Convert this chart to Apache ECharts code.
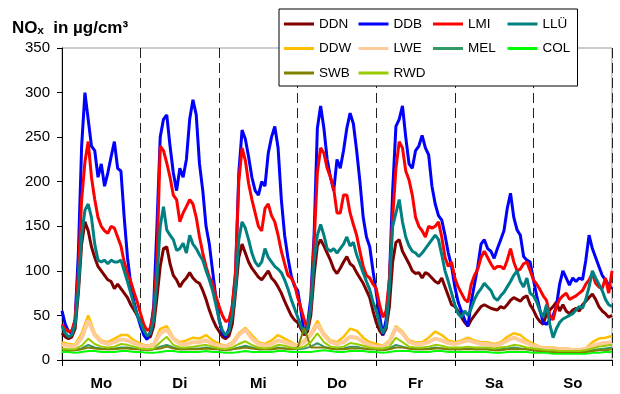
<!DOCTYPE html>
<html>
<head>
<meta charset="utf-8">
<script src="https://cdn.jsdelivr.net/npm/echarts@6/dist/echarts.min.js"></script>
<style>
html, body { margin: 0; padding: 0; background: #fff; }
#main { width: 620px; height: 394px; }
</style>
</head>
<body>
<div id="main"></div>
<script>
// Wochengang NOx, stündliche Werte (Hauptstationen) und 2-stündliche Werte (übrige Stationen)
var days = ['Mo', 'Di', 'Mi', 'Do', 'Fr', 'Sa', 'So'];
var seriesNames = ['DDN', 'DDB', 'LMI', 'LLÜ', 'DDW', 'LWE', 'MEL', 'COL', 'SWB', 'RWD'];

var DDN = [
	30, 26, 24, 26, 35, 75, 130, 155, 145, 127, 115, 105, 100, 95, 90, 88, 80, 85, 80, 75, 70, 62, 56, 50,
	44, 33, 25, 26, 38, 70, 105, 125, 127, 108, 95, 90, 82, 88, 92, 98, 92, 88, 86, 78, 68, 56, 46, 38,
	32, 26, 24, 27, 40, 75, 115, 130, 120, 110, 103, 98, 93, 90, 95, 100, 92, 88, 82, 75, 66, 58, 50, 45,
	42, 35, 28, 32, 50, 95, 128, 135, 128, 120, 112, 102, 97, 103, 110, 116, 108, 105, 98, 92, 86, 78, 70, 55,
	42, 33, 28, 35, 60, 110, 132, 135, 122, 115, 108, 100, 97, 98, 92, 98, 96, 92, 88, 86, 92, 82, 72, 62,
	60, 55, 48, 42, 38, 45, 50, 55, 60, 62, 60, 58, 57, 56, 60, 58, 62, 67, 70, 68, 66, 70, 72, 62,
	56, 48, 43, 40, 52, 56, 60, 65, 55, 62, 55, 52, 56, 58, 55, 62, 66, 70, 74, 68, 60, 55, 52, 48, 50
];
var DDB = [
	55, 40, 32, 30, 45, 120, 240, 300, 270, 240, 235, 205, 220, 195, 210, 228, 245, 215, 212, 160, 115, 85, 65, 50,
	38, 28, 23, 32, 60, 150, 250, 270, 275, 240, 210, 190, 215, 205, 225, 270, 292, 275, 220, 190, 150, 130, 100, 70,
	45, 30, 26, 35, 60, 95, 210, 258, 248, 228, 205, 190, 185, 200, 195, 232, 250, 262, 238, 180, 140, 115, 95, 83,
	78, 55, 30, 40, 70, 140, 260, 285, 260, 225, 205, 190, 225, 215, 235, 260, 277, 265, 235, 200, 160, 138, 127, 100,
	75, 50, 28, 45, 90, 190, 262, 270, 285, 250, 220, 215, 235, 240, 252, 238, 230, 195, 175, 162, 157, 140, 120, 105,
	82, 65, 55, 45, 38, 65, 85, 105, 130, 135, 125, 122, 114, 125, 135, 145, 170, 187, 160, 146, 140, 116, 112, 110,
	90, 72, 56, 42, 40, 45, 50, 60, 85, 100, 92, 84, 92, 88, 92, 90, 112, 140, 125, 115, 105, 95, 90, 84, 80
];
var LMI = [
	40, 35, 32, 33, 45, 100, 180, 222, 245, 205, 180, 160, 150, 145, 142, 150, 148, 138, 128, 110, 97, 88, 76, 65,
	52, 40, 33, 36, 55, 110, 240, 235, 221, 205, 185, 180, 155, 165, 172, 180, 175, 160, 138, 120, 105, 93, 86, 72,
	60, 50, 43, 45, 60, 100, 200, 238, 224, 198, 180, 165, 150, 145, 170, 175, 162, 155, 140, 122, 108, 95, 92, 85,
	70, 58, 45, 35, 60, 130, 210, 238, 232, 215, 205, 192, 165, 165, 185, 185, 165, 152, 140, 122, 105, 95, 92, 85,
	80, 62, 48, 55, 90, 160, 215, 245, 238, 212, 202, 185, 160, 150, 145, 138, 150, 148, 150, 155, 138, 115, 105, 110,
	92, 82, 75, 68, 65, 85, 95, 102, 115, 122, 115, 108, 102, 105, 105, 102, 112, 125, 110, 100, 102, 108, 110, 100,
	90, 85, 79, 72, 67, 50, 45, 60, 68, 72, 75, 68, 70, 72, 75, 78, 85, 90, 97, 86, 82, 80, 92, 75, 100
];
var LLU = [
	38, 30, 26, 28, 40, 80, 140, 168, 175, 160, 130, 112, 110, 112, 108, 112, 110, 110, 112, 100, 88, 75, 62, 50,
	42, 33, 27, 30, 45, 90, 150, 172, 146, 140, 135, 123, 125, 131, 120, 140, 130, 125, 118, 112, 100, 90, 78, 62,
	45, 33, 28, 32, 50, 80, 135, 155, 148, 135, 120, 110, 105, 110, 125, 115, 110, 105, 102, 98, 90, 80, 68, 58,
	48, 38, 30, 35, 60, 110, 140, 152, 140, 125, 122, 125, 120, 125, 130, 138, 128, 132, 118, 108, 98, 88, 79, 65,
	55, 40, 30, 38, 80, 150, 165, 180, 155, 138, 128, 122, 120, 116, 120, 125, 130, 135, 140, 135, 118, 100, 88, 75,
	62, 52, 48, 55, 50, 58, 68, 75, 80, 86, 82, 78, 70, 67, 72, 76, 82, 88, 95, 100, 88, 82, 92, 75,
	72, 65, 55, 48, 62, 40, 25, 35, 42, 46, 48, 50, 52, 56, 60, 58, 68, 82, 100, 92, 85, 78, 68, 62, 60
];

// 2-stündlich
var DDW = [
	20, 18, 17, 30, 50, 30, 22, 20, 24, 28, 28, 22,
	18, 16, 18, 35, 38, 25, 20, 22, 25, 24, 28, 22,
	18, 16, 20, 30, 36, 28, 20, 18, 22, 28, 24, 20,
	16, 22, 30, 44, 30, 22, 20, 26, 35, 33, 25, 20,
	18, 16, 22, 38, 32, 22, 20, 20, 25, 32, 28, 22,
	20, 22, 25, 22, 20, 20, 18, 20, 26, 30, 28, 22,
	18, 15, 14, 14, 13, 13, 12, 12, 13, 20, 24, 25, 27
];
var LWE = [
	17, 16, 15, 25, 44, 28, 20, 18, 20, 23, 22, 19,
	16, 15, 17, 30, 34, 24, 18, 18, 20, 20, 22, 18,
	16, 15, 18, 28, 34, 24, 18, 16, 18, 22, 20, 18,
	15, 20, 28, 40, 28, 20, 18, 20, 26, 25, 20, 17,
	15, 15, 20, 36, 30, 20, 18, 18, 20, 24, 22, 19,
	18, 20, 22, 20, 18, 18, 16, 18, 22, 25, 22, 19,
	16, 14, 13, 12, 12, 12, 11, 11, 12, 16, 18, 19, 20
];
var MEL = [
	12, 11, 11, 13, 17, 14, 13, 12, 13, 14, 14, 13,
	12, 11, 12, 15, 17, 14, 12, 12, 13, 13, 14, 13,
	12, 11, 12, 14, 16, 14, 12, 12, 12, 14, 13, 12,
	12, 13, 15, 19, 15, 13, 12, 13, 15, 15, 13, 12,
	12, 11, 13, 17, 15, 13, 12, 12, 13, 14, 13, 12,
	12, 12, 13, 12, 12, 12, 11, 12, 13, 14, 13, 12,
	11, 10, 10, 9, 9, 9, 9, 9, 10, 11, 12, 13, 14
];
var COL = [
	9, 9, 8, 9, 10, 10, 9, 9, 9, 10, 10, 9,
	9, 8, 8, 9, 10, 10, 9, 9, 9, 9, 10, 9,
	9, 8, 8, 9, 10, 9, 9, 9, 9, 10, 10, 9,
	9, 9, 9, 10, 11, 10, 9, 9, 10, 10, 10, 9,
	9, 8, 9, 10, 10, 10, 9, 9, 9, 10, 10, 9,
	9, 9, 9, 9, 9, 9, 8, 8, 9, 9, 9, 9,
	8, 8, 8, 7, 7, 7, 7, 7, 7, 8, 8, 9, 9
];
var SWB = [
	12, 11, 11, 12, 14, 13, 12, 12, 12, 13, 13, 12,
	12, 11, 12, 13, 15, 13, 12, 12, 12, 12, 13, 12,
	12, 11, 12, 13, 14, 13, 12, 12, 12, 13, 13, 12,
	14, 36, 14, 14, 14, 13, 12, 12, 13, 13, 13, 12,
	12, 11, 12, 14, 14, 13, 12, 12, 12, 13, 13, 12,
	12, 12, 12, 12, 12, 12, 11, 11, 12, 12, 12, 12,
	11, 10, 10, 9, 9, 9, 9, 9, 9, 10, 11, 11, 12
];
var RWD = [
	13, 12, 12, 16, 24, 18, 15, 14, 15, 18, 17, 15,
	13, 12, 13, 20, 26, 17, 14, 14, 15, 16, 17, 15,
	13, 12, 14, 18, 21, 17, 14, 13, 14, 17, 16, 14,
	13, 15, 20, 30, 20, 15, 14, 15, 19, 18, 16, 14,
	13, 13, 15, 25, 20, 15, 14, 14, 15, 17, 16, 14,
	14, 14, 15, 14, 14, 14, 13, 14, 15, 17, 16, 14,
	13, 12, 11, 11, 10, 10, 10, 10, 11, 13, 15, 16, 17
];

var FONT = "'Liberation Sans', Arial, sans-serif";
var myChart = echarts.init(document.getElementById('main'));

function toXY(values, step) {
	return values.map(function (v, i) { return [i * step, v]; });
}

function makeLine(name, values, step, color, width) {
	return {
		name: name,
		type: 'line',
		xAxisIndex: 0,
		data: toXY(values, step),
		showSymbol: false,
		symbol: 'none',
		lineStyle: { color: color, width: width },
		itemStyle: { color: color },
		emphasis: { disabled: true }
	};
}

var option = {
	animation: false,
	backgroundColor: '#fff',
	title: {
		text: 'NOₓ  in µg/cm³',
		left: 12,
		top: 20,
		padding: 0,
		textStyle: { fontFamily: FONT, fontSize: 17, fontWeight: 'bold', color: '#000' }
	},
	legend: {
		data: seriesNames,
		left: 279,
		top: 9,
		width: 310,
		padding: [5, 0, 3, 5],
		itemGap: 4.5,
		itemWidth: 30,
		itemHeight: 3,
		icon: 'rect',
		backgroundColor: '#fff',
		borderColor: '#000',
		borderWidth: 1,
		textStyle: { fontFamily: FONT, fontSize: 13.5, color: '#000', width: 35, lineHeight: 20 }
	},
	grid: {
		left: 62, right: 8, top: 48, bottom: 34,
		show: true, borderColor: '#999', borderWidth: 1
	},
	xAxis: [{
		type: 'value',
		min: 0, max: 168, interval: 24,
		axisLine: { show: true, lineStyle: { color: '#000', width: 1 } },
		axisTick: { show: true, length: 6, lineStyle: { color: '#000' } },
		axisLabel: { show: false },
		splitLine: { show: true, lineStyle: { color: '#222', width: 1, type: [10, 5] } }
	}, {
		type: 'category',
		data: days,
		position: 'bottom',
		boundaryGap: true,
		axisLine: { show: false },
		axisTick: { show: false },
		splitLine: { show: false },
		axisLabel: { fontFamily: FONT, fontSize: 15, fontWeight: 'bold', color: '#000', margin: 16 }
	}],
	yAxis: {
		type: 'value',
		min: 0, max: 350, interval: 50,
		axisLine: { show: true, lineStyle: { color: '#000', width: 1 } },
		axisTick: { show: true, length: 5, lineStyle: { color: '#000' } },
		axisLabel: { fontFamily: FONT, fontSize: 15, color: '#000', margin: 12 },
		splitLine: { show: false }
	},
	series: [
		makeLine('DDN', DDN, 1, '#800000', 3),
		makeLine('DDB', DDB, 1, '#0000FF', 3),
		makeLine('LMI', LMI, 1, '#FF0000', 3),
		makeLine('LLÜ', LLU, 1, '#008080', 3),
		makeLine('DDW', DDW, 2, '#FFC000', 2.5),
		makeLine('LWE', LWE, 2, '#FFCC99', 4),
		makeLine('MEL', MEL, 2, '#339966', 2),
		makeLine('COL', COL, 2, '#00FF00', 2),
		makeLine('SWB', SWB, 2, '#808000', 2),
		makeLine('RWD', RWD, 2, '#99CC00', 2)
	]
};
myChart.setOption(option);
</script>
</body>
</html>
